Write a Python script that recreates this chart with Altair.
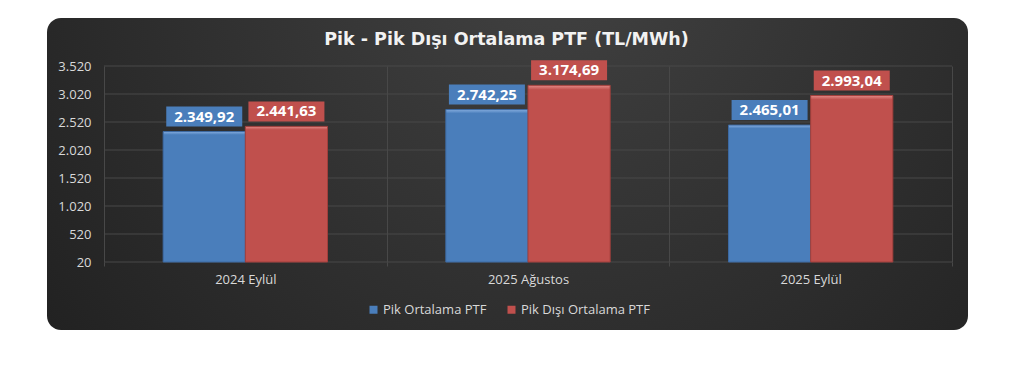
import altair as alt
import pandas as pd

categories = ["2024 Eylül", "2025 Ağustos", "2025 Eylül"]
series = ["Pik Ortalama PTF", "Pik Dışı Ortalama PTF"]
pik = [2349.92, 2742.25, 2465.01]
pik_disi = [2441.63, 3174.69, 2993.04]
y_ticks = [20, 520, 1020, 1520, 2020, 2520, 3020, 3520]
title_text = "Pik - Pik Dışı Ortalama PTF (TL/MWh)"
colors = ["#4a7ebb", "#c0504d"]

FONT = "Open Sans"
LABEL_COLOR = "#d9d9d9"
GRID_COLOR = "#484848"


def tr(v):
    s = f"{v:,.2f}"
    return s.replace(",", "X").replace(".", ",").replace("X", ".")


rows = []
for i, c in enumerate(categories):
    rows.append({"cat": c, "series": series[0], "value": pik[i], "label": tr(pik[i])})
    rows.append({"cat": c, "series": series[1], "value": pik_disi[i], "label": tr(pik_disi[i])})
df = pd.DataFrame(rows)

y_scale = alt.Scale(domain=[20, 3520], nice=False, zero=False)
y_axis = alt.Axis(
    title=None, values=y_ticks,
    labelExpr="replace(format(datum.value, ','), ',', '.')",
    grid=False, domain=False, ticks=False, zindex=1,
    labelColor=LABEL_COLOR, labelFont=FONT, labelFontSize=13, labelPadding=13,
)

x_enc = alt.X(
    "cat:N",
    sort=categories,
    scale=alt.Scale(domain=categories, paddingInner=0, paddingOuter=0),
    axis=alt.Axis(
        title=None, labelAngle=0, grid=True, gridColor=GRID_COLOR, tickBand="extent",
        ticks=True, tickSize=4, tickColor=GRID_COLOR, domain=False, zindex=1,
        labelColor=LABEL_COLOR, labelFont=FONT, labelFontSize=13, labelPadding=7,
    ),
)
xoff_enc = alt.XOffset(
    "series:N", scale=alt.Scale(domain=series, paddingInner=0, paddingOuter=0.72)
)
y_enc = alt.Y("value:Q", scale=y_scale, axis=y_axis)

base = alt.Chart(df)

panel = alt.Chart(pd.DataFrame({"a": [0]})).mark_rect(
    cornerRadius=14,
    fill={
        "gradient": "radial",
        "stops": [{"offset": 0, "color": "#424242"}, {"offset": 1, "color": "#1f1f1f"}],
        "x1": 0.55, "y1": 0.25, "r1": 0, "x2": 0.55, "y2": 0.25, "r2": 0.75,
    },
).encode(x=alt.value(-57), x2=alt.value(864), y=alt.value(-48), y2=alt.value(264))

title = alt.Chart(pd.DataFrame({"a": [0]})).mark_text(
    text=title_text, font="DejaVu Sans", fontSize=17.5, fontWeight="bold", color="#f2f2f2",
    align="center", baseline="middle",
).encode(x=alt.value(402.5), y=alt.value(-26))

grid = alt.Chart(pd.DataFrame({"value": y_ticks})).mark_rule(
    color=GRID_COLOR, strokeWidth=1
).encode(y=y_enc)


def bar_layer(name, light, col, dark):
    return base.transform_filter(alt.datum.series == name).mark_bar(
        fill={
            "gradient": "linear", "x1": 0, "y1": 0, "x2": 0, "y2": 1,
            "stops": [
                {"offset": 0, "color": light},
                {"offset": 0.025, "color": col},
                {"offset": 1, "color": col},
            ],
        },
        stroke=dark, strokeWidth=1,
    ).encode(x=x_enc, xOffset=xoff_enc, y=y_enc, y2=alt.datum(20))


bars_blue = bar_layer(series[0], "#86aee0", colors[0], "#3d6aa3")
bars_red = bar_layer(series[1], "#e48a87", colors[1], "#a13f3c")

boxes = base.mark_point(
    shape="M-1,-0.263L1,-0.263L1,0.263L-1,0.263Z", size=5776, filled=True,
    opacity=1, yOffset=-15, strokeWidth=0,
).encode(
    x=x_enc, xOffset=xoff_enc, y=y_enc,
    color=alt.Color(
        "series:N",
        scale=alt.Scale(domain=series, range=colors),
        legend=alt.Legend(
            title=None, orient="none", legendX=263, legendY=237, direction="horizontal",
            symbolType="square", symbolSize=64, symbolStrokeWidth=0,
            labelColor=LABEL_COLOR, labelFont=FONT, labelFontSize=13,
            columnPadding=18, labelOffset=3,
        ),
    ),
)

texts = base.mark_text(
    font=FONT, fontSize=15, fontWeight="bold", color="#ffffff",
    align="center", baseline="middle", yOffset=-15,
).encode(x=x_enc, xOffset=xoff_enc, y=y_enc, text="label:N")

chart = alt.layer(panel, grid, title, bars_blue, bars_red, boxes, texts).properties(
    width=848, height=196,
    padding={"left": 96, "top": 58, "right": 56, "bottom": 100},
    autosize=alt.AutoSizeParams(type="none"),
    background="#ffffff",
).configure_view(stroke=None)

chart.save("out.html", embed_options={"renderer": "svg", "actions": False})
